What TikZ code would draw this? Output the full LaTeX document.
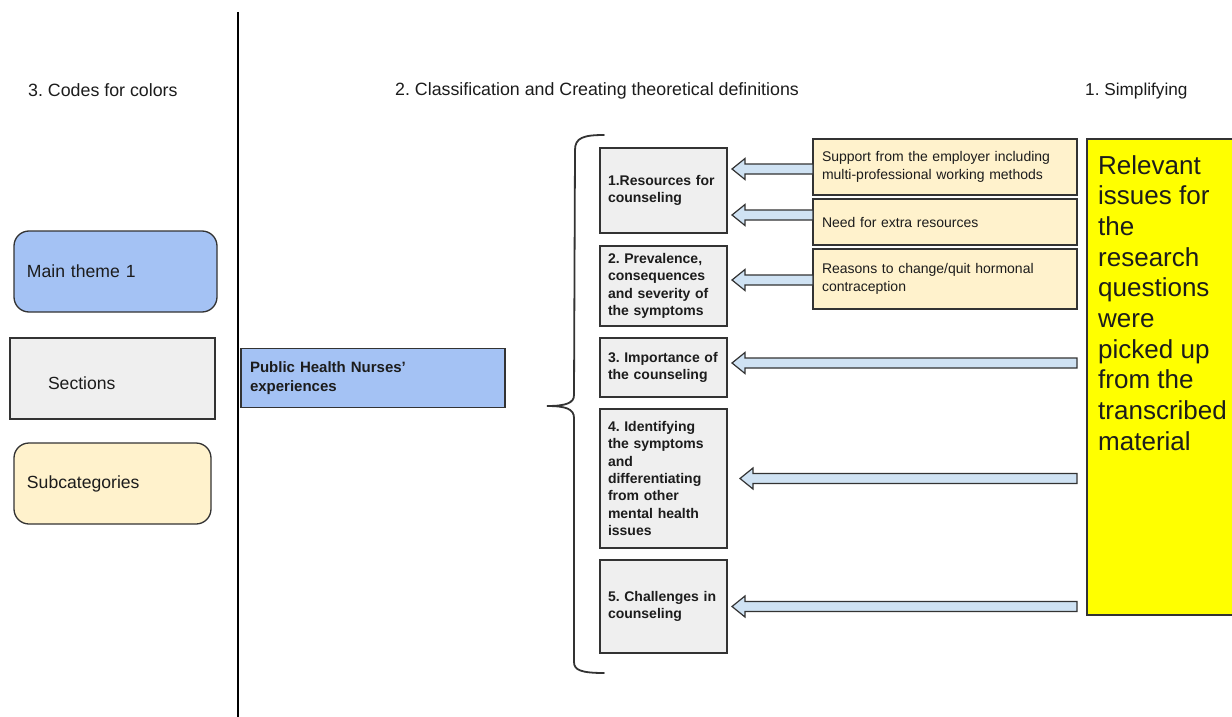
\documentclass[tikz,border=0pt]{standalone}
\usepackage{fontspec}
\setmainfont{Liberation Sans}
\usetikzlibrary{calc}
\definecolor{mainblue}{HTML}{A4C2F4}
\definecolor{secgray}{HTML}{EFEFEF}
\definecolor{subcream}{HTML}{FFF2CC}
\definecolor{arrowblue}{HTML}{CFE2F3}
\definecolor{edgegray}{HTML}{333333}
\definecolor{hiyellow}{HTML}{FFFF00}
\definecolor{inkblack}{HTML}{1C1C1C}
\frenchspacing
\tikzset{
  box/.style={draw=edgegray, line width=1.3pt, outer sep=0pt, anchor=north west, align=left, text=inkblack},
  legendbox/.style={box, inner ysep=0pt, font=\fontsize{17.6}{21}\selectfont},
  secbox/.style={box, fill=secgray, text width=111pt, inner xsep=8pt, inner ysep=0pt, font=\frenchspacing\fontsize{14}{17.3}\selectfont\bfseries},
  subbox/.style={box, fill=subcream, text width=246pt, inner xsep=9pt, inner ysep=0pt, font=\fontsize{14}{17.3}\selectfont},
  header/.style={anchor=base west, inner sep=0pt, text=inkblack, font=\frenchspacing\fontsize{17.8}{21}\selectfont},
  blockarr/.style={draw=edgegray, fill=arrowblue, line width=1.2pt, line join=miter},
  bracestyle/.style={draw=edgegray, line width=1.8pt, line cap=round},
}
\newcommand\blockarrow[2]{%
  \path[blockarr] let \p1=#1, \p2=#2 in
    (\x1,\y1+5pt) -- (\x2+13pt,\y1+5pt) -- (\x2+13pt,\y1+10.5pt) -- (\x2,\y1)
    -- (\x2+13pt,\y1-10.5pt) -- (\x2+13pt,\y1-5pt) -- (\x1,\y1-5pt) -- cycle;}
\begin{document}
\frenchspacing
\begin{tikzpicture}[x=1pt,y=-1pt]
\useasboundingbox (0,0) rectangle (1232,717);
\clip (0,0) rectangle (1232,717);
\fill[white] (0,0) rectangle (1232,717);

% divider
\draw[black, line width=1.6pt] (238,12) -- (238,717);

% headers
\node[header] (h3) at (28,96) {3. Codes for colors};
\node[header] (h2) at (395,95.5) {2. Classification and Creating theoretical definitions};
\node[header, font=\frenchspacing\fontsize{17.2}{21}\selectfont] (h1) at (1085,95.5) {1. Simplifying};

% legend
\node[legendbox, fill=mainblue, rounded corners=15pt, minimum width=203pt, minimum height=81pt, text width=177pt, inner xsep=13pt] (lg1) at (14,231) {Main theme 1};
\node[legendbox, fill=secgray, minimum width=205pt, minimum height=81pt, text width=129pt, inner xsep=38pt, text height=21.6pt, text depth=0pt] (lg2) at (10,338) {Sections};
\node[legendbox, fill=subcream, rounded corners=15pt, minimum width=197pt, minimum height=81pt, text width=171pt, inner xsep=13pt] (lg3) at (14,443) {Subcategories};

% main theme
\node[box, fill=mainblue, text width=246pt, inner xsep=9pt, inner ysep=0pt, minimum height=59pt, font=\fontsize{15}{18.3}\selectfont\bfseries] (phn) at (241,348.5) {Public Health Nurses’\\experiences};

% sections
\node[secbox, minimum height=85pt] (b1) at (600,148) {1.Resources for\\counseling};
\node[secbox, minimum height=80pt] (b2) at (600,246) {2. Prevalence,\\consequences\\and severity of\\the symptoms};
\node[secbox, minimum height=59pt] (b3) at (600,338) {3. Importance of\\the counseling};
\node[secbox, minimum height=139pt] (b4) at (600,409) {4. Identifying\\the symptoms\\and\\differentiating\\from other\\mental health\\issues};
\node[secbox, minimum height=93pt] (b5) at (600,560) {5. Challenges in\\counseling};

% subcategories
\node[subbox, minimum height=56pt] (s1) at (813,139) {Support from the employer including\\multi-professional working methods};
\node[subbox, minimum height=46pt] (s2) at (813,199) {Need for extra resources};
\node[subbox, minimum height=60pt] (s3) at (813,249) {Reasons to change/quit hormonal\\contraception};

% simplifying
\node[box, fill=hiyellow, minimum width=160pt, minimum height=476pt, inner sep=0pt] (yel) at (1087,139) {};
\node[anchor=north west, inner sep=0pt, align=left, text=inkblack, font=\fontsize{26}{30.7}\selectfont] (ytext) at (1098,155) {Relevant\\issues for\\the\\research\\questions\\were\\picked up\\from the\\transcribed\\material};

% brace
\path[bracestyle] (604,135) .. controls (583,135) and (575,138) .. (575,150) -- (574,395)
  .. controls (574,403) and (566,406) .. (547,406)
  .. controls (566,406) and (574,409) .. (574,418) -- (574,662)
  .. controls (574,670) and (581,673) .. (604,673);

% arrows
\blockarrow{($(s1.west)+(0,2)$)}{($(b1.east)+(5,0)$)}
\blockarrow{($(s2.west)+(0,-7)$)}{($(b1.east)+(5,0)$)}
\blockarrow{($(s3.west)+(0,1)$)}{($(b2.east)+(5,0)$)}
\blockarrow{($(yel.west |- b3.east)+(-10,-4.5)$)}{($(b3.east)+(5,0)$)}
\blockarrow{($(yel.west |- b4.east)+(-10,0)$)}{($(b4.east)+(13,0)$)}
\blockarrow{($(yel.west |- b5.east)+(-10,0)$)}{($(b5.east)+(5,0)$)}
\end{tikzpicture}
\end{document}
